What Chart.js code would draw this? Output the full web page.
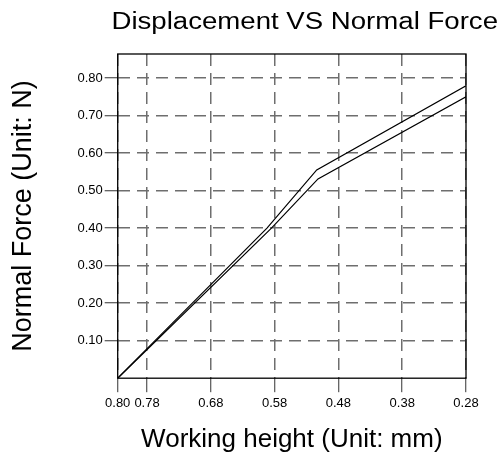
<!DOCTYPE html>
<html>
<head>
<meta charset="utf-8">
<script src="https://cdn.jsdelivr.net/npm/chart.js@4"></script>
<style>
  html, body { margin: 0; padding: 0; background: #fff; }
</style>
</head>
<body>
<canvas id="chart" width="501" height="455"></canvas>
<script>
// Chart data
const chartTitle = 'Displacement VS Normal Force';
const xAxisTitle = 'Working height (Unit: mm)';
const yAxisTitle = 'Normal Force (Unit: N)';

// x axis runs from the origin (labelled 0.80) down to 0.28
const xTickValues = [0.826, 0.78, 0.68, 0.58, 0.48, 0.38, 0.28];
const xTickLabels = ['0.80', '0.78', '0.68', '0.58', '0.48', '0.38', '0.28'];
const yTickValues = [0.10, 0.20, 0.30, 0.40, 0.50, 0.60, 0.70, 0.80];

const upperX = [0.826, 0.592, 0.514, 0.28];
const upperY = [0, 0.40, 0.555, 0.779];
const lowerX = [0.826, 0.585, 0.512, 0.28];
const lowerY = [0, 0.40, 0.531, 0.750];

const FONT = '"Liberation Sans", Arial, sans-serif';

function toPoints(xs, ys) {
    return xs.map((x, i) => ({ x: x, y: ys[i] }));
}

// plain black box round the plot + stretched title like the original
const framePlugin = {
    id: 'frame',
    afterDraw(chart) {
        const { ctx, chartArea } = chart;
        ctx.save();
        ctx.strokeStyle = '#000';
        ctx.lineWidth = 1.3;
        ctx.strokeRect(chartArea.left, chartArea.top,
            chartArea.right - chartArea.left, chartArea.bottom - chartArea.top);

        ctx.font = '23px ' + FONT;
        ctx.fillStyle = '#000';
        ctx.textAlign = 'right';
        ctx.textBaseline = 'alphabetic';
        ctx.translate(chart.width - 3, 29);
        ctx.scale(1.2, 1);
        ctx.fillText(chartTitle, 0, 0);
        ctx.restore();
    }
};

const gridStyle = {
    color: '#6e6e6e',
    lineWidth: 1.5,
    tickLength: 13,
    tickColor: '#333',
    tickWidth: 1,
    tickBorderDash: []
};

new Chart(document.getElementById('chart'), {
    type: 'line',
    data: {
        datasets: [
            {
                label: 'upper',
                data: toPoints(upperX, upperY),
                borderColor: '#000',
                borderWidth: 1.2,
                pointRadius: 0,
                tension: 0,
                fill: false
            },
            {
                label: 'lower',
                data: toPoints(lowerX, lowerY),
                borderColor: '#000',
                borderWidth: 1.2,
                pointRadius: 0,
                tension: 0,
                fill: false
            }
        ]
    },
    options: {
        responsive: false,
        animation: false,
        layout: { padding: { left: 7, right: 35, top: 54, bottom: 0 } },
        plugins: {
            legend: { display: false },
            tooltip: { enabled: false },
            title: { display: false }
        },
        scales: {
            x: {
                type: 'linear',
                reverse: true,
                min: 0.28,
                max: 0.826,
                afterBuildTicks: axis => {
                    axis.ticks = xTickValues.map(v => ({ value: v }));
                },
                ticks: {
                    autoSkip: false,
                    maxRotation: 0,
                    padding: 3,
                    color: '#000',
                    font: { family: FONT, size: 13 },
                    callback: (v, i) => xTickLabels[i]
                },
                grid: { ...gridStyle, tickLength: 14 },
                border: { display: false, dash: [12, 7] },
                title: {
                    display: true,
                    text: xAxisTitle,
                    color: '#000',
                    font: { family: FONT, size: 26 },
                    padding: { top: 10, bottom: 0 }
                }
            },
            y: {
                min: 0,
                max: 0.864,
                afterBuildTicks: axis => {
                    axis.ticks = yTickValues.map(v => ({ value: v }));
                },
                ticks: {
                    padding: 2,
                    color: '#000',
                    font: { family: FONT, size: 13 },
                    callback: v => v.toFixed(2)
                },
                grid: gridStyle,
                border: { display: false, dash: [12, 7] },
                title: {
                    display: true,
                    text: yAxisTitle,
                    color: '#000',
                    font: { family: FONT, size: 27 },
                    padding: { top: 0, bottom: 36 }
                }
            }
        }
    },
    plugins: [framePlugin]
});
</script>
</body>
</html>
